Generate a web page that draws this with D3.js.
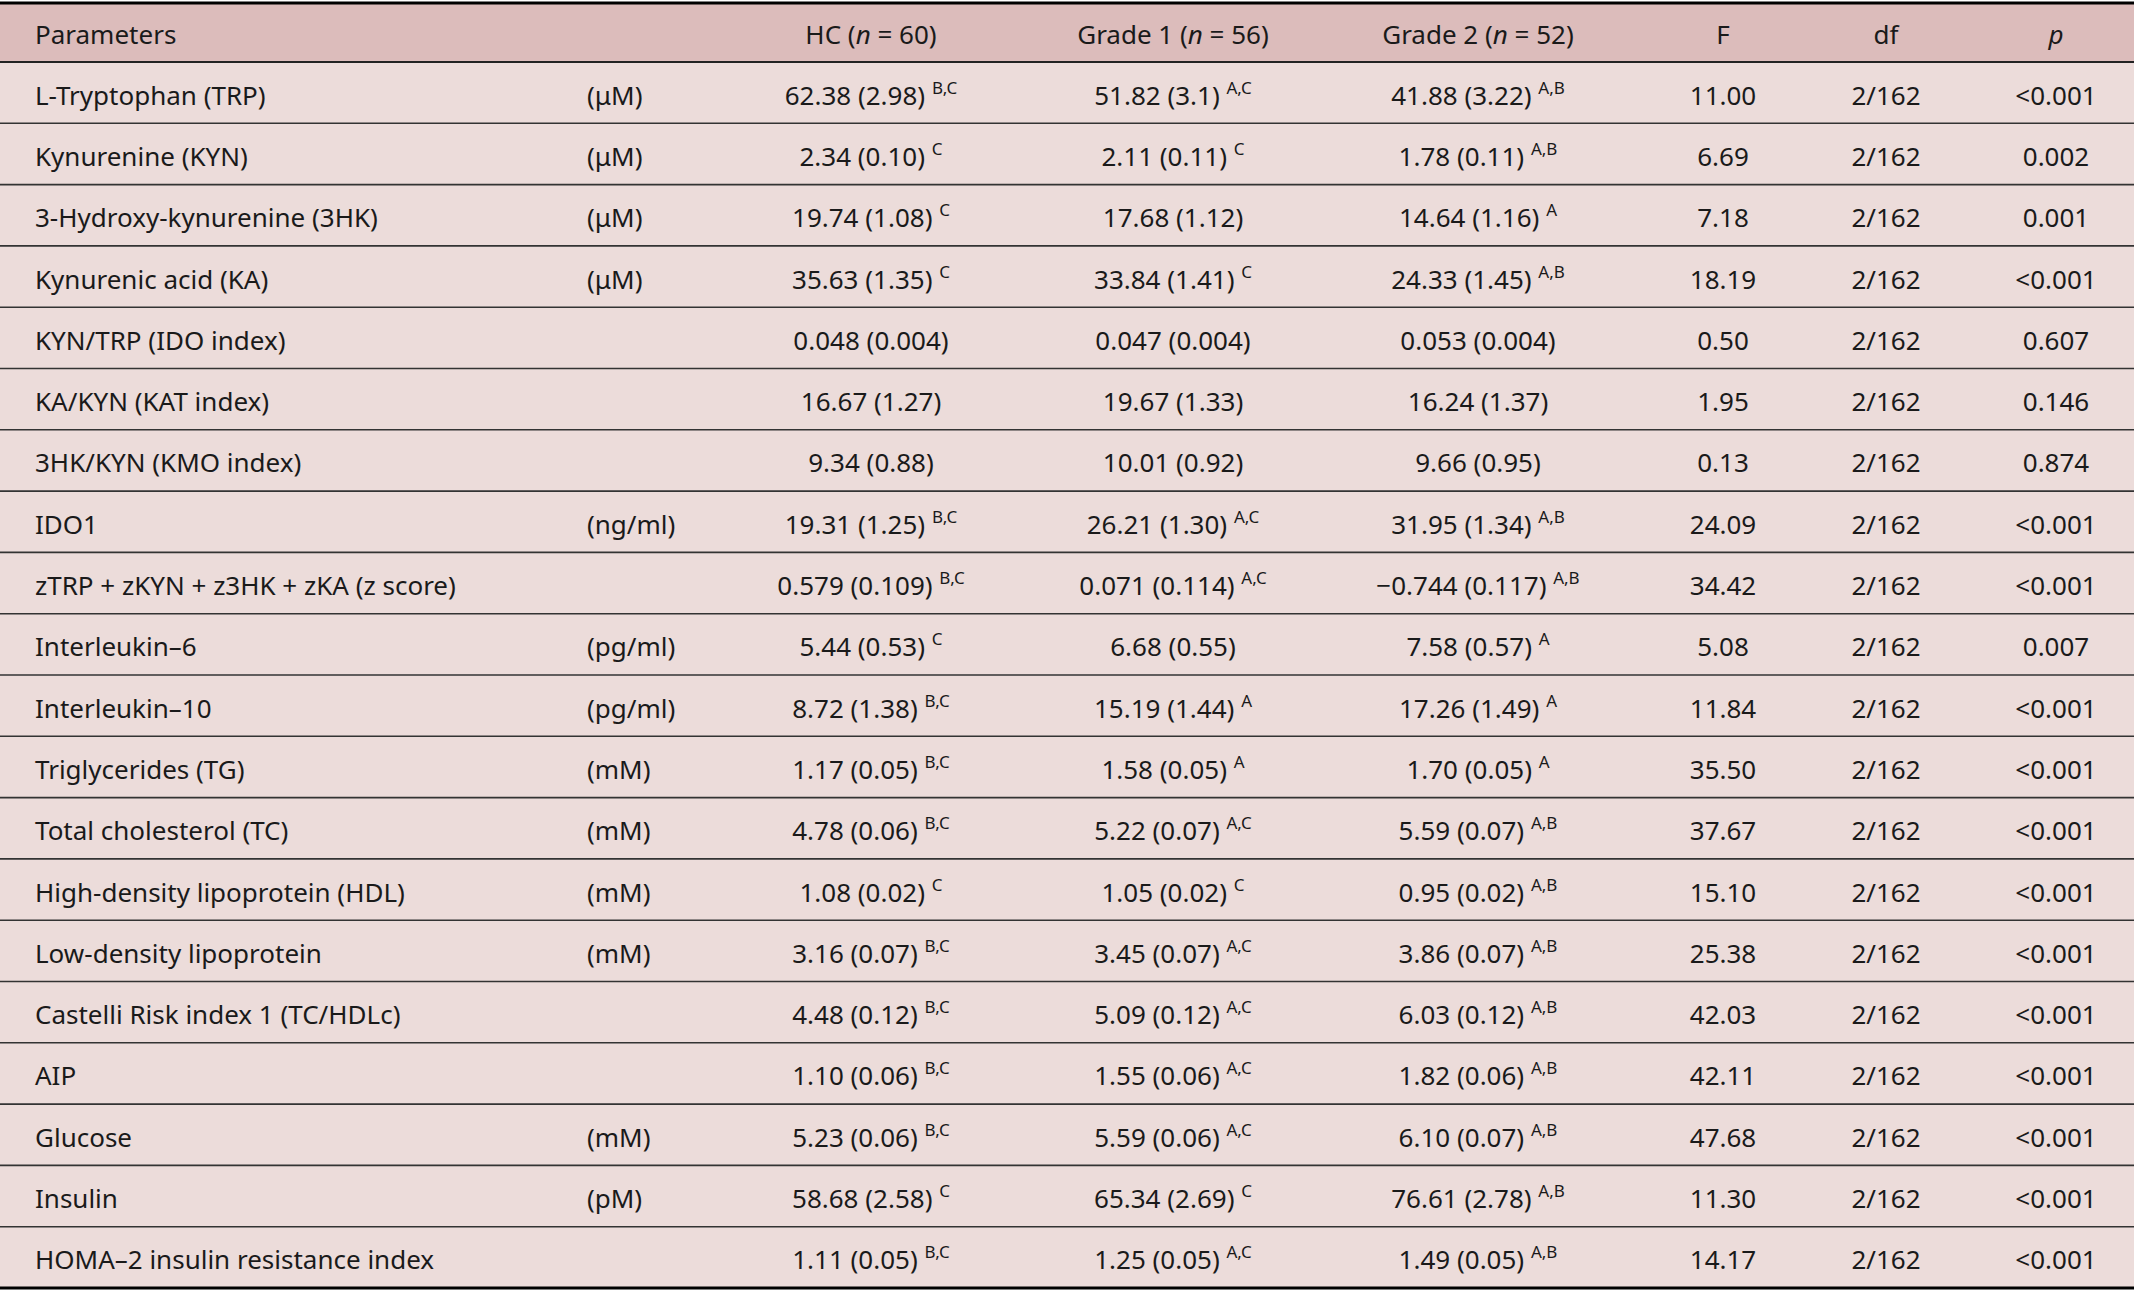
<!DOCTYPE html>
<html>
<head>
<meta charset="utf-8">
<script src="https://cdn.jsdelivr.net/npm/d3@7"></script>
<style>
  body { margin: 0; background: #fff; }
  text { font-family: "Noto Sans", "Open Sans", sans-serif; fill: #1a1a1a; }
</style>
</head>
<body>
<div id="table"></div>
<script>
// table content
var params = ["L-Tryptophan (TRP)", "Kynurenine (KYN)", "3-Hydroxy-kynurenine (3HK)", "Kynurenic acid (KA)",
  "KYN/TRP (IDO index)", "KA/KYN (KAT index)", "3HK/KYN (KMO index)", "IDO1",
  "zTRP + zKYN + z3HK + zKA (z score)", "Interleukin\u20136", "Interleukin\u201310", "Triglycerides (TG)",
  "Total cholesterol (TC)", "High-density lipoprotein (HDL)", "Low-density lipoprotein",
  "Castelli Risk index 1 (TC/HDLc)", "AIP", "Glucose", "Insulin", "HOMA\u20132 insulin resistance index"];
var units = ["(\u03bcM)", "(\u03bcM)", "(\u03bcM)", "(\u03bcM)", "", "", "", "(ng/ml)", "", "(pg/ml)", "(pg/ml)",
  "(mM)", "(mM)", "(mM)", "(mM)", "", "", "(mM)", "(pM)", ""];
var hc = ["62.38 (2.98)", "2.34 (0.10)", "19.74 (1.08)", "35.63 (1.35)", "0.048 (0.004)", "16.67 (1.27)", "9.34 (0.88)",
  "19.31 (1.25)", "0.579 (0.109)", "5.44 (0.53)", "8.72 (1.38)", "1.17 (0.05)", "4.78 (0.06)", "1.08 (0.02)",
  "3.16 (0.07)", "4.48 (0.12)", "1.10 (0.06)", "5.23 (0.06)", "58.68 (2.58)", "1.11 (0.05)"];
var hcSup = ["B,C", "C", "C", "C", "", "", "", "B,C", "B,C", "C", "B,C", "B,C", "B,C", "C", "B,C", "B,C", "B,C", "B,C", "C", "B,C"];
var g1 = ["51.82 (3.1)", "2.11 (0.11)", "17.68 (1.12)", "33.84 (1.41)", "0.047 (0.004)", "19.67 (1.33)", "10.01 (0.92)",
  "26.21 (1.30)", "0.071 (0.114)", "6.68 (0.55)", "15.19 (1.44)", "1.58 (0.05)", "5.22 (0.07)", "1.05 (0.02)",
  "3.45 (0.07)", "5.09 (0.12)", "1.55 (0.06)", "5.59 (0.06)", "65.34 (2.69)", "1.25 (0.05)"];
var g1Sup = ["A,C", "C", "", "C", "", "", "", "A,C", "A,C", "", "A", "A", "A,C", "C", "A,C", "A,C", "A,C", "A,C", "C", "A,C"];
var g2 = ["41.88 (3.22)", "1.78 (0.11)", "14.64 (1.16)", "24.33 (1.45)", "0.053 (0.004)", "16.24 (1.37)", "9.66 (0.95)",
  "31.95 (1.34)", "\u22120.744 (0.117)", "7.58 (0.57)", "17.26 (1.49)", "1.70 (0.05)", "5.59 (0.07)", "0.95 (0.02)",
  "3.86 (0.07)", "6.03 (0.12)", "1.82 (0.06)", "6.10 (0.07)", "76.61 (2.78)", "1.49 (0.05)"];
var g2Sup = ["A,B", "A,B", "A", "A,B", "", "", "", "A,B", "A,B", "A", "A", "A", "A,B", "A,B", "A,B", "A,B", "A,B", "A,B", "A,B", "A,B"];
var fVals = ["11.00", "6.69", "7.18", "18.19", "0.50", "1.95", "0.13", "24.09", "34.42", "5.08", "11.84", "35.50",
  "37.67", "15.10", "25.38", "42.03", "42.11", "47.68", "11.30", "14.17"];
var dfVals = params.map(function() { return "2/162"; });
var pVals = ["<0.001", "0.002", "0.001", "<0.001", "0.607", "0.146", "0.874", "<0.001", "<0.001", "0.007", "<0.001",
  "<0.001", "<0.001", "<0.001", "<0.001", "<0.001", "<0.001", "<0.001", "<0.001", "<0.001"];

var W = 2134, H = 1292, top0 = 3, headH = 59, bottom = 1288;
var fs = 26;

var svg = d3.select("#table").append("svg").attr("width", W).attr("height", H);

var y = d3.scaleBand().domain(d3.range(params.length)).range([top0 + headH, bottom]);

// backgrounds
svg.append("rect").attr("x", 0).attr("y", top0).attr("width", W).attr("height", headH).attr("fill", "#dcbcbb");
svg.append("rect").attr("x", 0).attr("y", top0 + headH).attr("width", W).attr("height", bottom - top0 - headH).attr("fill", "#ecdcda");

// row rules
svg.selectAll("line.row").data(d3.range(1, params.length)).enter().append("line")
  .attr("x1", 0).attr("x2", W).attr("y1", function(i) { return y(i); }).attr("y2", function(i) { return y(i); })
  .attr("stroke", "#333").attr("stroke-width", 1.6);
svg.append("line").attr("x1", 0).attr("x2", W).attr("y1", top0 + headH).attr("y2", top0 + headH).attr("stroke", "#222").attr("stroke-width", 1.8);
svg.append("line").attr("x1", 0).attr("x2", W).attr("y1", top0).attr("y2", top0).attr("stroke", "#000").attr("stroke-width", 3);
svg.append("line").attr("x1", 0).attr("x2", W).attr("y1", bottom).attr("y2", bottom).attr("stroke", "#000").attr("stroke-width", 3);

// header
var hy = top0 + headH / 2 + 11;
function head(x, anchor, parts) {
  var t = svg.append("text").attr("x", x).attr("y", hy).attr("text-anchor", anchor).attr("font-size", fs);
  parts.forEach(function(p) { t.append("tspan").attr("font-style", p[1] ? "italic" : null).text(p[0]); });
}
head(35, "start", [["Parameters"]]);
head(871, "middle", [["HC ("], ["n", 1], [" = 60)"]]);
head(1173, "middle", [["Grade 1 ("], ["n", 1], [" = 56)"]]);
head(1478, "middle", [["Grade 2 ("], ["n", 1], [" = 52)"]]);
head(1723, "middle", [["F"]]);
head(1886, "middle", [["df"]]);
head(2056, "middle", [["p", 1]]);

// body
var rows = svg.selectAll("g.r").data(d3.range(params.length)).enter().append("g")
  .attr("transform", function(i) { return "translate(0," + (y(i) + y.bandwidth() / 2 + 12) + ")"; });

function plain(x, anchor, arr) {
  rows.append("text").attr("x", x).attr("text-anchor", anchor).attr("font-size", fs).text(function(i) { return arr[i]; });
}
function withSup(x, arr, sup) {
  var t = rows.append("text").attr("x", x).attr("text-anchor", "middle").attr("font-size", fs);
  t.append("tspan").text(function(i) { return arr[i] + (sup[i] ? " " : ""); });
  t.append("tspan").attr("font-size", 17).attr("dy", -11).text(function(i) { return sup[i]; });
}
plain(35, "start", params);
plain(587, "start", units);
withSup(871, hc, hcSup);
withSup(1173, g1, g1Sup);
withSup(1478, g2, g2Sup);
plain(1723, "middle", fVals);
plain(1886, "middle", dfVals);
plain(2056, "middle", pVals);
</script>
</body>
</html>
